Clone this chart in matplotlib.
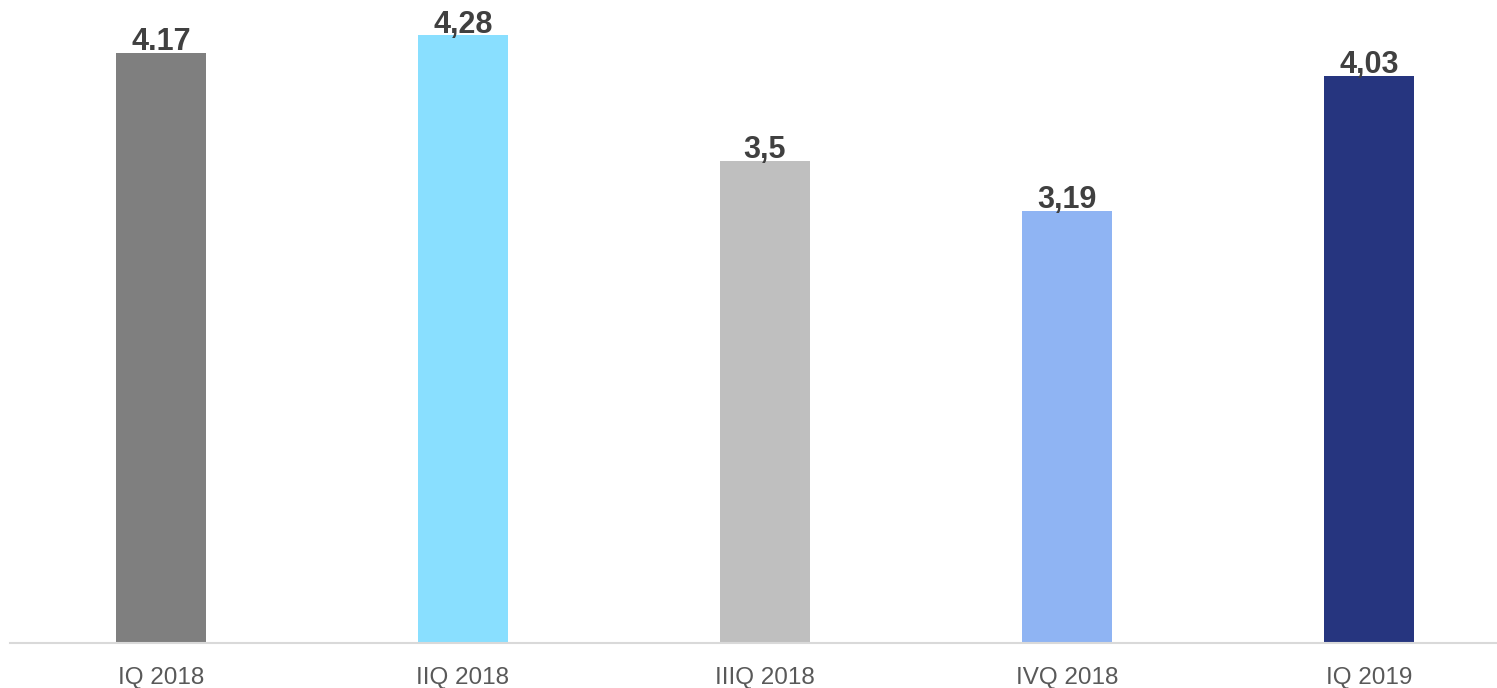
import matplotlib
matplotlib.use("Agg")
import matplotlib.pyplot as plt

quarters = ["IQ 2018", "IIQ 2018", "IIIQ 2018", "IVQ 2018", "IQ 2019"]
values = [4.17, 4.28, 3.5, 3.19, 4.03]
labels = ["4.17", "4,28", "3,5", "3,19", "4,03"]
colors = ["#7f7f7f", "#89dfff", "#bfbfbf", "#8fb4f3", "#26357f"]

plt.rcParams['font.family'] = ['Liberation Sans', 'DejaVu Sans']

fig = plt.figure(figsize=(14.97, 6.88), dpi=100)
ax = fig.add_axes([10 / 1497, 45 / 688, 1 - 10 / 1497, 643 / 688])

x = range(len(quarters))
# axis floor sits at 0.5, so bars start there
bars = ax.bar(x, [v - 0.5 for v in values], width=0.30, color=colors, bottom=0.5)

for xi, v, lab in zip(x, values, labels):
    ax.annotate(lab, (xi, v), xytext=(0, 2), textcoords="offset points",
                ha="center", va="baseline", fontsize=22, fontweight="bold",
                color="#404040")

ax.set_ylim(0.5, 4.5)
ax.set_xlim(-0.5, (1497 - 161) / 302)
ax.set_xticks(list(x))
ax.set_xticklabels(quarters, fontsize=17.5, color="#595959")
ax.tick_params(axis="x", length=0, pad=17)
ax.set_yticks([])
for s in ["top", "right", "left"]:
    ax.spines[s].set_visible(False)
ax.spines["bottom"].set_color("#d9d9d9")
ax.spines["bottom"].set_linewidth(1.5)

fig.savefig("out.png", dpi=100)
